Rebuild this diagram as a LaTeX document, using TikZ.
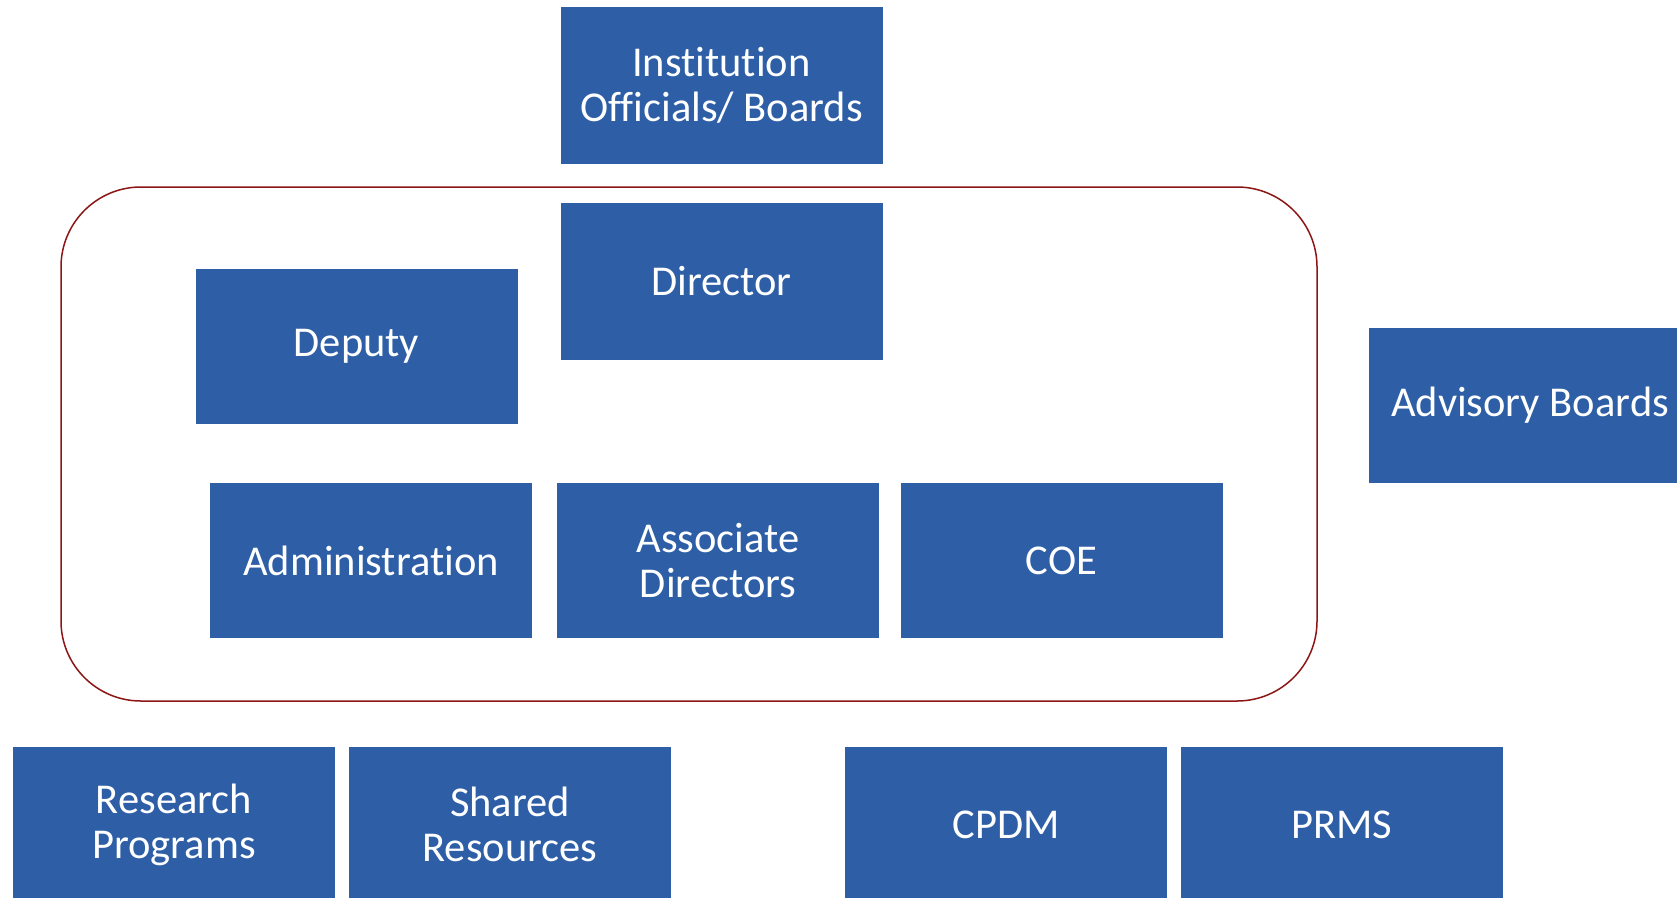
\documentclass[tikz,border=0pt]{standalone}
\usepackage{fontspec}
\setmainfont{Carlito}[Ligatures=NoCommon]
\definecolor{boxblue}{RGB}{45,94,166}
\definecolor{framered}{RGB}{140,22,22}
\begin{document}
\begin{tikzpicture}[x=1pt,y=-1pt,
  orgbox/.style={fill=boxblue, draw=none, text=white, minimum width=322pt, minimum height=155pt,
    inner sep=0pt, align=center, font=\fontsize{42.5}{45}\selectfont},
  frame/.style={draw=framered, line width=1.5pt, rounded corners=80pt}]
\useasboundingbox (0,0) rectangle (1677,897);
\clip (0,0) rectangle (1677,897);
\draw[frame] (61,187) rectangle (1317,701);
\node[orgbox, minimum height=157pt] (inst) at (721.5,85.5) {Institution\\Officials/ Boards};
\node[orgbox, minimum height=157pt] (director) at (721.5,281.5) {Director};
\node[orgbox] (deputy) at (356.5,346.5) {Deputy};
\node[orgbox] (admin) at (371,560.5) {Administration};
\node[orgbox] (assoc) at (718,560.5) {Associate\\Directors};
\node[orgbox] (coe) at (1061.5,560.5) {COE};
\node[orgbox] (advisory) at (1530,405.5) {Advisory Boards};
\node[orgbox] (research) at (174,824.5) {Research\\Programs};
\node[orgbox] (shared) at (510,824.5) {Shared\\Resources};
\node[orgbox] (cpdm) at (1006,824.5) {CPDM};
\node[orgbox] (prms) at (1342,824.5) {PRMS};
\end{tikzpicture}
\end{document}
